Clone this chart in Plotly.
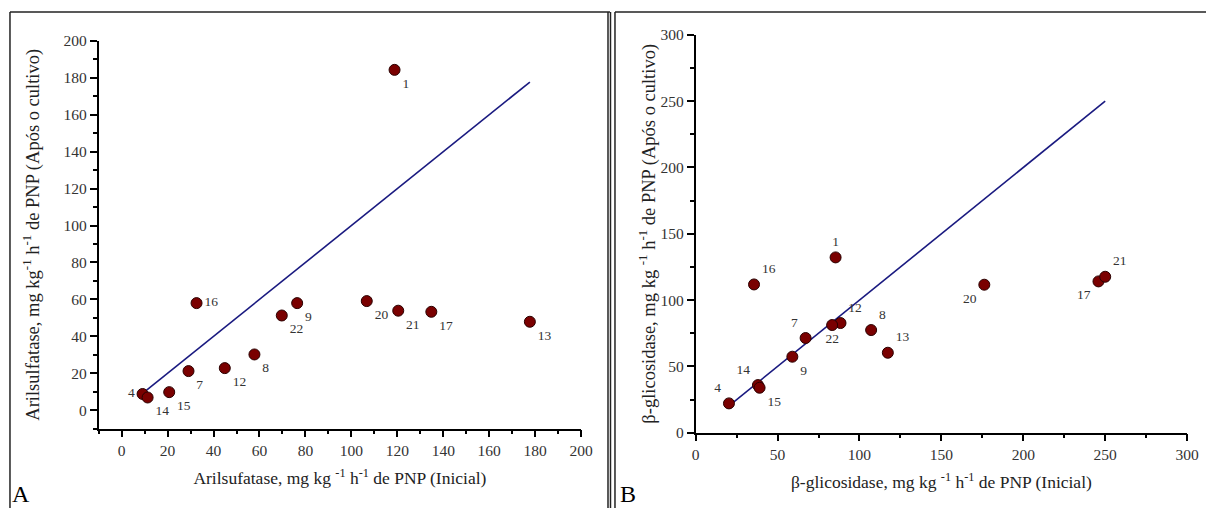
import plotly.graph_objects as go

# ---- data ----
ids = ["1", "4", "7", "8", "9", "12", "13", "14", "15", "16", "17", "20", "21", "22"]
aril_inicial = [118.8, 9.1, 29.1, 57.8, 76.4, 44.9, 177.7, 11.3, 20.7, 32.6, 134.8, 106.7, 120.4, 69.7]
aril_cultivo = [184.3, 8.8, 21.2, 30.2, 58.0, 22.8, 47.9, 6.9, 9.8, 58.0, 53.3, 59.1, 53.9, 51.3]
gli_inicial = [85.4, 20.3, 67.1, 107.1, 59.0, 88.4, 117.3, 38.0, 39.0, 35.6, 245.9, 176.2, 250.0, 83.3]
gli_cultivo = [132.2, 22.1, 71.4, 77.4, 57.3, 82.7, 60.3, 35.9, 33.9, 111.8, 114.1, 111.6, 117.6, 81.2]

pos_A = ["bottom right", "middle left", "bottom right", "bottom right", "bottom right", "bottom right",
         "bottom right", "bottom right", "bottom right", "middle right", "bottom right", "bottom right",
         "bottom right", "bottom right"]
pos_B = ["top center", "top left", "top left", "top right", "bottom right", "top right",
         "top right", "top left", "bottom right", "top right", "bottom left", "bottom left",
         "top right", "bottom center"]

FONT = "Liberation Serif"
W, H = 1206, 508
MARK = "#7a0000"
LINE = "#1a1a80"

fig = go.Figure()

def add_panel(x, y, pos, xa, ya):
    lo, hi = min(x), max(x)
    fig.add_trace(go.Scatter(x=[lo, hi], y=[lo, hi], mode="lines",
                             line=dict(color=LINE, width=1.6),
                             xaxis=xa, yaxis=ya, showlegend=False, hoverinfo="skip"))
    fig.add_trace(go.Scatter(x=x, y=y, mode="markers+text", text=ids, textposition=pos,
                             textfont=dict(family=FONT, size=13.5, color="#333333"),
                             marker=dict(color=MARK, size=11, line=dict(color="#2a0000", width=1)),
                             xaxis=xa, yaxis=ya, showlegend=False))

add_panel(aril_inicial, aril_cultivo, pos_A, "x", "y")
add_panel(gli_inicial, gli_cultivo, pos_B, "x2", "y2")

# target-image pixel -> paper fraction (compensates the capture's offset/scale)
def px(v):
    return ((v - 1.0) / 0.99) / W

def py(v):
    return 1 - ((v - 8.1) / 0.967) / H

common = dict(showline=True, linecolor="black", linewidth=1.5, ticks="outside", ticklen=7,
              tickwidth=1.5, tickcolor="black", showgrid=False, zeroline=False,
              tickfont=dict(family=FONT, size=15.5, color="#333333"))

def minor(d):
    return dict(ticks="outside", ticklen=4, tickwidth=1.5, tickcolor="black", dtick=d, tick0=0)

fig.update_layout(
    width=W, height=H, margin=dict(l=0, r=0, t=0, b=0),
    paper_bgcolor="white", plot_bgcolor="white",
    xaxis=dict(domain=[px(96), px(580)], range=[-10, 200], tickvals=list(range(0, 201, 20)),
               minor=minor(10),
               title=dict(text="Arilsufatase, mg kg <sup>-1</sup> h<sup>-1</sup> de PNP (Inicial)", standoff=14,
                          font=dict(family=FONT, size=17.5, color="#222222")),
               anchor="y", **common),
    yaxis=dict(domain=[py(428), py(40)], range=[-10, 200], tickvals=list(range(0, 201, 20)),
               minor=minor(10),
               title=dict(text="Arilsulfatase, mg kg<sup>-1</sup> h<sup>-1</sup> de PNP (Após o cultivo)", standoff=19,
                          font=dict(family=FONT, size=18.5, color="#222222")),
               anchor="x", **common),
    xaxis2=dict(domain=[px(695), px(1188)], range=[0, 300], tickvals=list(range(0, 301, 50)),
                minor=minor(25),
                title=dict(text="β-glicosidase, mg kg <sup>-1</sup> h<sup>-1</sup> de PNP (Inicial)", standoff=14,
                           font=dict(family=FONT, size=17.5, color="#222222")),
                anchor="y2", **common),
    yaxis2=dict(domain=[py(432), py(34)], range=[0, 300], tickvals=list(range(0, 301, 50)),
                minor=minor(25),
                title=dict(text="β-glicosidase, mg kg <sup>-1</sup> h<sup>-1</sup> de PNP (Após o cultivo)", standoff=0,
                           font=dict(family=FONT, size=18.5, color="#222222")),
                anchor="x2", **common),
)

# panel frames
frame = dict(type="line", xref="paper", yref="paper", line=dict(color="#222222", width=1.5))
fig.add_shape(x0=px(7), x1=px(7), y0=py(11), y1=py(520), **frame)
fig.add_shape(x0=px(7), x1=px(609), y0=py(11), y1=py(11), **frame)
fig.add_shape(x0=px(607), x1=px(607), y0=py(11), y1=py(520), **frame)
fig.add_shape(x0=px(609.5), x1=px(609.5), y0=py(11), y1=py(520), **frame)
fig.add_shape(x0=px(614), x1=px(614), y0=py(11), y1=py(520), **frame)
fig.add_shape(x0=px(614), x1=px(1220), y0=py(11), y1=py(11), **frame)

# panel letters
fig.add_annotation(text="A", x=px(7), y=py(508), xref="paper", yref="paper", xanchor="left",
                   yanchor="bottom", showarrow=False, font=dict(family=FONT, size=24, color="black"))
fig.add_annotation(text="B", x=px(617), y=py(508), xref="paper", yref="paper", xanchor="left",
                   yanchor="bottom", showarrow=False, font=dict(family=FONT, size=24, color="black"))

fig.write_html("out.html", config={"displayModeBar": False},
               post_script="document.body.style.margin='0';document.body.style.overflow='hidden';")
